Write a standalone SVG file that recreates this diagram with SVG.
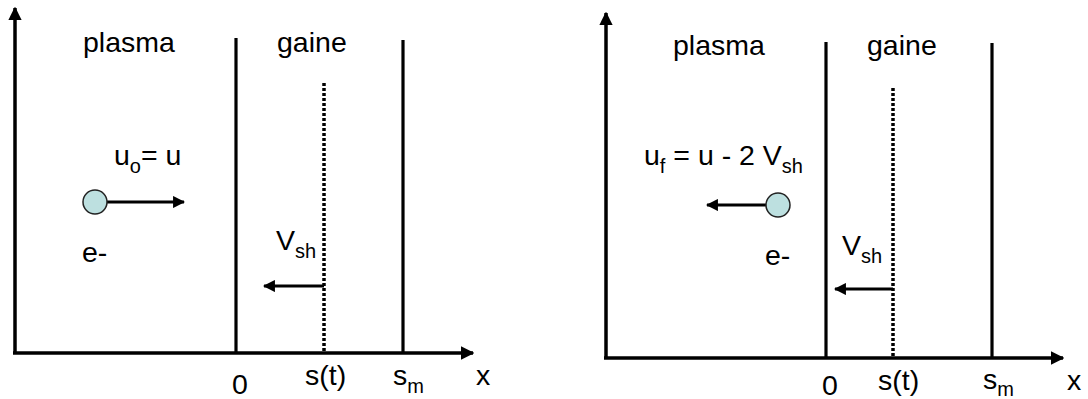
<svg xmlns="http://www.w3.org/2000/svg" width="1088" height="399" viewBox="0 0 1088 399">
<style>
text{font-family:"Liberation Sans",Arial,sans-serif;font-size:28.5px;fill:#000}
.sub{font-size:20px}
.ax{stroke:#000;stroke-width:3.5;fill:none}
.ln{stroke:#000;stroke-width:3.2;fill:none}
.dot{stroke:#000;stroke-width:3.5;stroke-dasharray:3 2;fill:none}
.el{fill:#bde0e0;stroke:#222;stroke-width:1.5}
</style>
<defs>
<marker id="ah" viewBox="0 0 10 10" refX="9" refY="5" markerWidth="3.8" markerHeight="3.8" orient="auto" markerUnits="strokeWidth">
<path d="M0,0 L10,5 L0,10 z" fill="#000"/>
</marker>
</defs>
<g id="left-panel">
<g id="connectors-left">
<line class="ax" x1="15" y1="354" x2="15" y2="8" marker-end="url(#ah)"/>
<line class="ax" x1="13" y1="353" x2="473" y2="353" marker-end="url(#ah)"/>
<line class="ln" x1="236" y1="38" x2="236" y2="353"/>
<line class="ln" x1="403" y1="40" x2="403" y2="353"/>
<line class="dot" x1="324" y1="83" x2="324" y2="353"/>
<line class="ln" x1="107" y1="202" x2="184" y2="202" marker-end="url(#ah)"/>
<line class="ln" x1="324" y1="286" x2="264" y2="286" marker-end="url(#ah)"/>
</g>
<g id="electron-left"><circle class="el" cx="95" cy="202" r="12"/></g>
<text x="83" y="52">plasma</text>
<text x="277" y="52">gaine</text>
<text x="114" y="165">u<tspan class="sub" dy="8">o</tspan><tspan dy="-8">= u</tspan></text>
<text x="82" y="262">e-</text>
<text x="276" y="250">V<tspan class="sub" dy="8">sh</tspan></text>
<text x="232" y="394">0</text>
<text x="305" y="385">s(t)</text>
<text x="393" y="385">s<tspan class="sub" dy="8">m</tspan></text>
<text x="476" y="385">x</text>
</g>
<g id="right-panel">
<g id="connectors-right">
<line class="ax" x1="606" y1="359" x2="606" y2="13" marker-end="url(#ah)"/>
<line class="ax" x1="604" y1="358" x2="1063" y2="358" marker-end="url(#ah)"/>
<line class="ln" x1="826" y1="42" x2="826" y2="358"/>
<line class="ln" x1="992" y1="43" x2="992" y2="358"/>
<line class="dot" x1="893" y1="88" x2="893" y2="358"/>
<line class="ln" x1="766" y1="205" x2="707" y2="205" marker-end="url(#ah)"/>
<line class="ln" x1="893" y1="289" x2="835" y2="289" marker-end="url(#ah)"/>
</g>
<g id="electron-right"><circle class="el" cx="778" cy="205" r="12"/></g>
<text x="673" y="55">plasma</text>
<text x="867" y="55">gaine</text>
<text x="644" y="165">u<tspan class="sub" dy="8">f</tspan><tspan dy="-8"> = u - 2 V</tspan><tspan class="sub" dy="8">sh</tspan></text>
<text x="765" y="265">e-</text>
<text x="842" y="255">V<tspan class="sub" dy="8">sh</tspan></text>
<text x="822" y="395">0</text>
<text x="878" y="390">s(t)</text>
<text x="983" y="389">s<tspan class="sub" dy="7">m</tspan></text>
<text x="1067" y="390">x</text>
</g>
</svg>
